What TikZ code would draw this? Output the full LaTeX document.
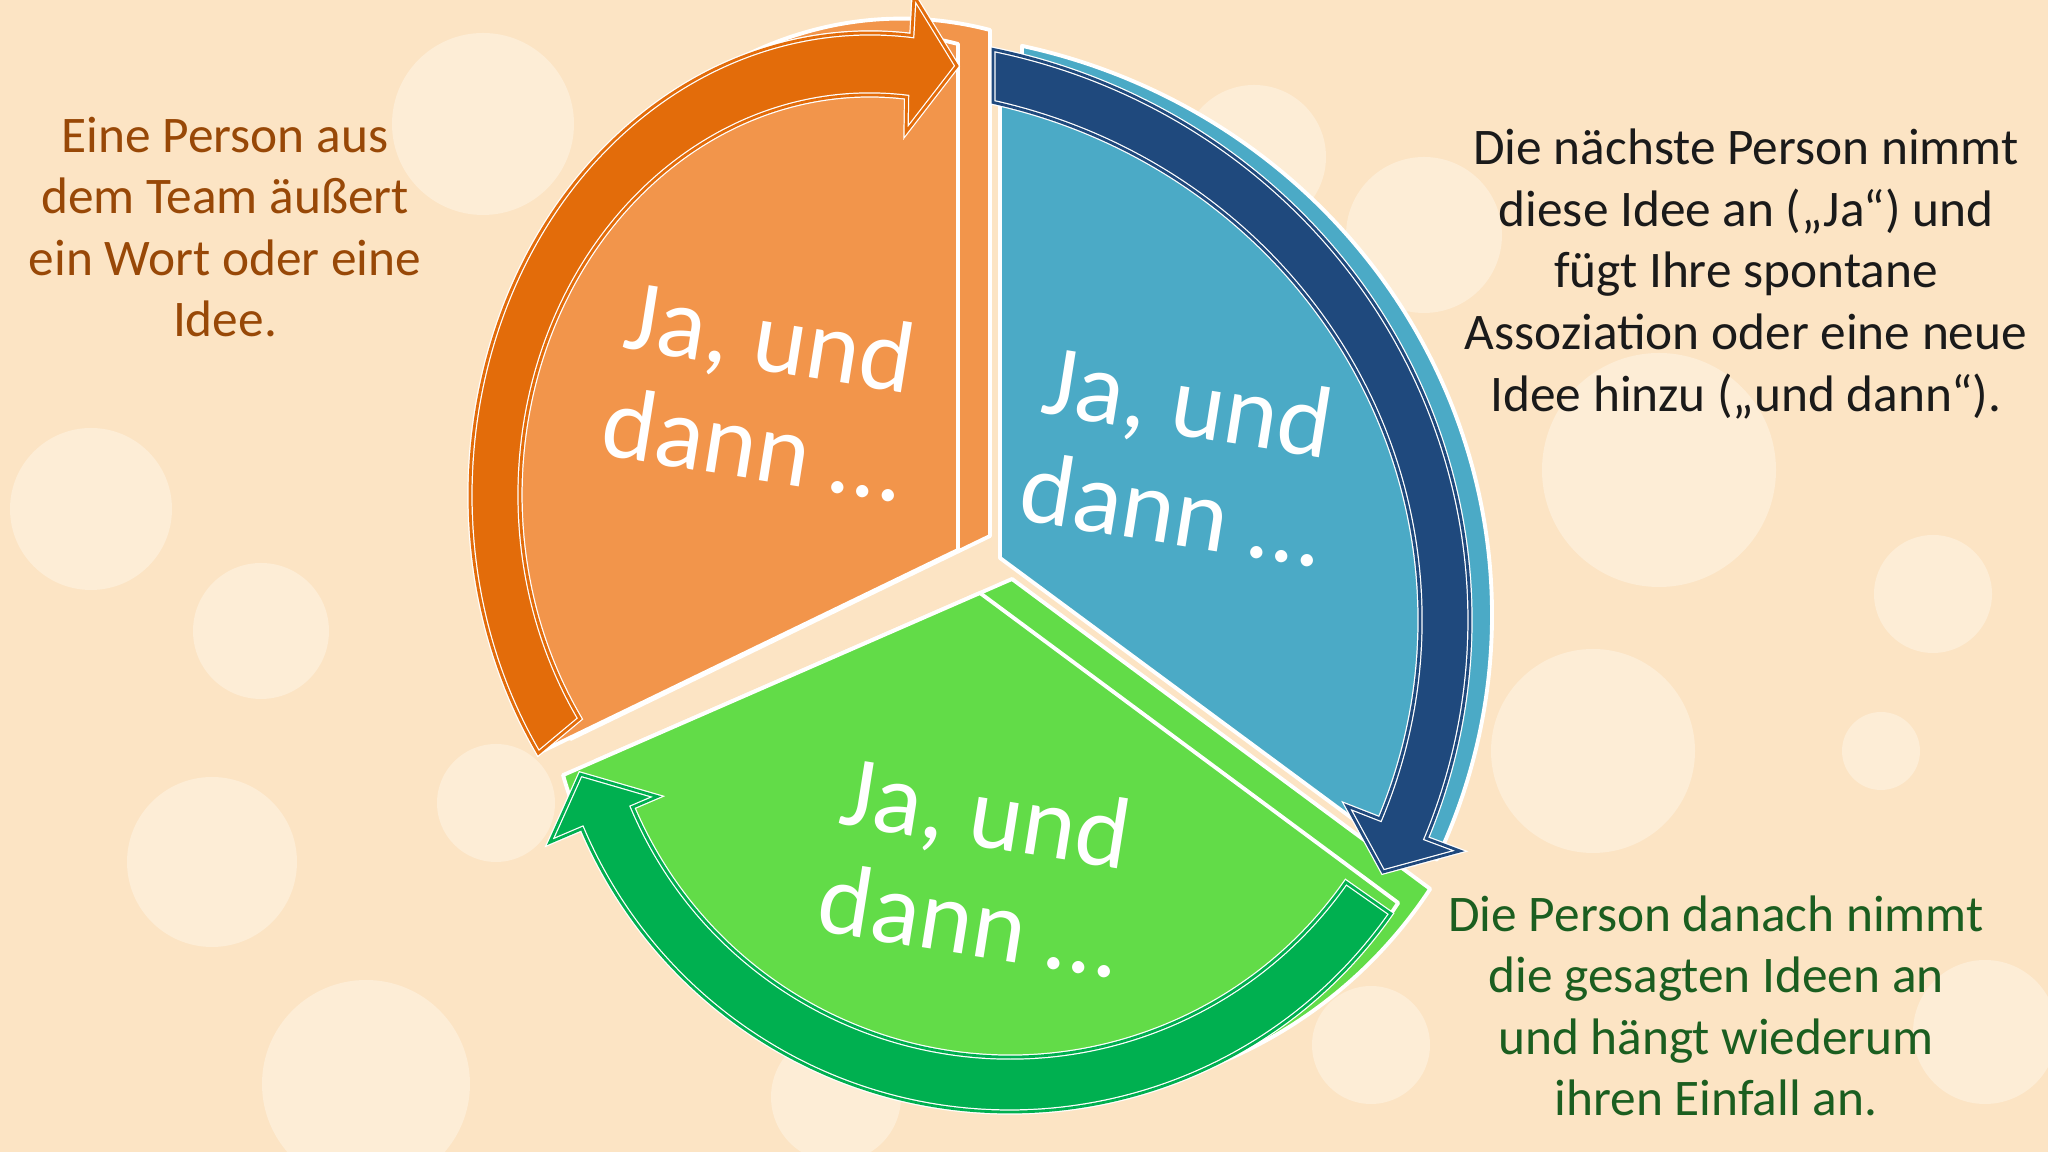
\documentclass[tikz,border=0pt]{standalone}
\usepackage{fontspec}
\setmainfont{Carlito}

\definecolor{peach}{HTML}{FCE4C4}
\definecolor{bokeh}{HTML}{FEF2E0}
\definecolor{orangeLight}{HTML}{F2954B}
\definecolor{orangeDark}{HTML}{E36C0A}
\definecolor{blueLight}{HTML}{4BAAC6}
\definecolor{blueDark}{HTML}{1F497D}
\definecolor{greenLight}{HTML}{62DC48}
\definecolor{greenDark}{HTML}{00B050}
\definecolor{brownText}{HTML}{984807}
\definecolor{darkText}{HTML}{1A1A1A}
\definecolor{greenText}{HTML}{1B5E20}

\tikzstyle{segment}=[draw=white, line width=1.1pt, line join=round]
\tikzstyle{band}=[draw=white, line width=0.35pt, double distance=0.8pt]
\tikzstyle{bubble}=[fill=bokeh, fill opacity=0.65]
\tikzstyle{segLabel}=[align=center, text=white, rotate=-9, font=\fontsize{29}{31}\selectfont]
\tikzstyle{sideLabel}=[align=center, font=\fontsize{14.6}{17.5}\selectfont]

% pie parts (drawn twice: back face and front face)
\newcommand{\orangePart}{(958,602) -- (958,1108) arc[start angle=77.3, end angle=214, x radius=400, y radius=462] -- cycle}
\newcommand{\bluePart}{(1000,594) -- (1000,1101.1) arc[start angle=77.49, end angle=-24.8, x radius=600, y radius=583] -- cycle}
\newcommand{\greenPart}{(980,559) -- (1398.2,249.1) arc[start angle=-33.4, end angle=-164, radius=465] -- cycle}

\begin{document}
\begin{tikzpicture}[x=0.01cm, y=0.01cm]

    \useasboundingbox (0,0) rectangle (2048,1152);
    \clip (0,0) rectangle (2048,1152);
    \fill[peach] (0,0) rectangle (2048,1152);

    % background bubbles
    \foreach \cx/\cy/\r in {483/1028/91, 91/643/81, 261/521/68, 212/290/85, 366/68/104,
        496/349/59, 1659/682/117, 1933/558/59, 1593/401/102, 1881/401/39,
        1985/120/72, 1424/917/78, 836/55/65, 1254/995/72, 1371/107/59}
        \fill[bubble] (\cx,\cy) circle (\r);

    % back faces
    \begin{scope}[shift={(32,14)}]
        \fill[orangeLight, segment] \orangePart;
        \fill[greenLight, segment] \greenPart;
    \end{scope}
    \begin{scope}[shift={(22,5)}]
        \fill[blueLight, segment] \bluePart;
    \end{scope}

    % front faces
    \fill[orangeLight, segment] \orangePart;
    \fill[blueLight, segment] \bluePart;
    \fill[greenLight, segment] \greenPart;

    % circular arrows
    \filldraw[band, fill=orangeDark, double=orangeDark] (538.4,398.7)
        arc[start angle=214, end angle=84, x radius=400, y radius=462]
        -- (914,1156) -- (957,1086) -- (906,1020) -- (906.6,1054.8)
        arc[start angle=84, end angle=214, x radius=350, y radius=400] -- cycle;
    \filldraw[band, fill=blueDark, double=blueDark] (993,1102.6)
        arc[start angle=78.17, end angle=-22, x radius=600, y radius=583]
        -- (1460,301) -- (1383,280) -- (1347,346) -- (1380,333.1)
        arc[start angle=-22, end angle=77.08, x radius=550, y radius=531] -- cycle;
    \filldraw[band, fill=greenDark, double=greenDark] (1390.9,238.3)
        arc[start angle=-35, end angle=-157, radius=465]
        -- (549.7,309.6) -- (580.4,377.8) -- (657.4,355.4) -- (632.6,344.8)
        arc[start angle=-157, end angle=-35, radius=410] -- cycle;

    % labels in the parts
    \node[segLabel] (orangeLabel) at (762,762) {Ja, und\\dann …};
    \node[segLabel] (blueLabel) at (1180,697) {Ja, und\\dann …};
    \node[segLabel] (greenLabel) at (978,286) {Ja, und\\dann …};

    % steps
    \node[sideLabel, text=brownText] (firstStep) at (225,925)
        {Eine Person aus\\dem Team äußert\\ein Wort oder eine\\Idee.};
    \node[sideLabel, text=darkText] (secondStep) at (1746,878)
        {Die nächste Person nimmt\\diese Idee an („Ja“) und\\fügt Ihre spontane\\Assoziation oder eine neue\\Idee hinzu („und dann“).};
    \node[sideLabel, text=greenText] (thirdStep) at (1716,146)
        {Die Person danach nimmt\\die gesagten Ideen an\\und hängt wiederum\\ihren Einfall an.};

\end{tikzpicture}
\end{document}
